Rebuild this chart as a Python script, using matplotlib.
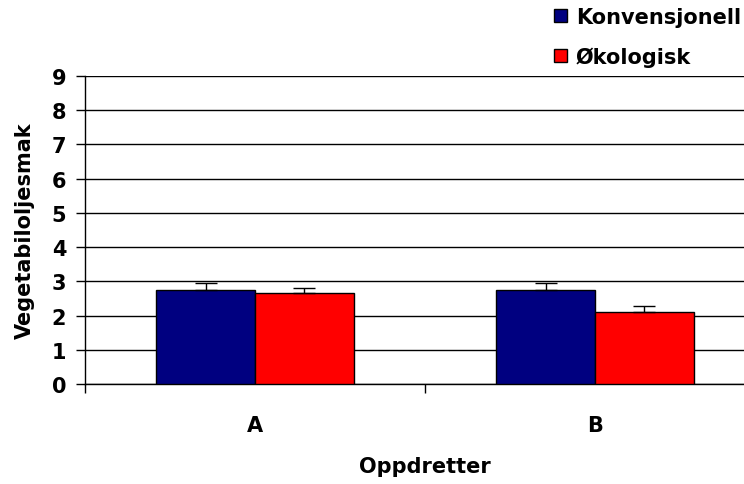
import numpy as np
import matplotlib
matplotlib.use("Agg")
import matplotlib.pyplot as plt

plt.rcParams["font.family"] = ["DejaVu Sans"]
plt.rcParams["font.weight"] = "bold"

# data
oppdretter = ["A", "B"]
serier = ["Konvensjonell", "Økologisk"]
verdier = {
    "Konvensjonell": [2.76, 2.76],
    "Økologisk": [2.66, 2.10],
}
feil = {
    "Konvensjonell": [0.19, 0.19],
    "Økologisk": [0.15, 0.19],
}
farger = {"Konvensjonell": "#000080", "Økologisk": "#ff0000"}

FS = 15

fig = plt.figure(figsize=(7.44, 4.85), dpi=100)
# axes runs a bit past the right edge, like the original
ax = fig.add_axes([85 / 744, 1 - 385 / 485, 680 / 744, 308 / 485])

x = np.arange(len(oppdretter)) + 0.5
w = 0.29
for i, s in enumerate(serier):
    pos = x + (i - 0.5) * w
    ax.bar(pos, verdier[s], w, color=farger[s], edgecolor="black",
           linewidth=1, label=s, zorder=3)
    ax.errorbar(pos, verdier[s], yerr=[np.zeros(2), feil[s]], fmt="none",
                ecolor="black", elinewidth=1, capsize=8, capthick=1, zorder=4)

ax.set_xlim(0, 2)
ax.set_ylim(0, 9)
ax.set_yticks(range(10))
ax.set_xticks([0, 1, 2])
ax.set_xticklabels([])
ax.set_xticks(x, minor=True)
ax.set_xticklabels(oppdretter, minor=True, fontsize=FS, fontweight="bold")
ax.tick_params(axis="x", which="minor", length=0, pad=22)
ax.tick_params(axis="x", which="major", length=6.5, width=1, color="black")
ax.tick_params(axis="y", length=6.5, width=1, labelsize=FS, pad=7)
for t in ax.get_yticklabels():
    t.set_fontweight("bold")

ax.yaxis.grid(True, color="black", linewidth=1, zorder=0)
ax.set_axisbelow(True)
for side in ["top", "right"]:
    ax.spines[side].set_visible(False)
ax.spines["left"].set_linewidth(1)
ax.spines["bottom"].set_linewidth(1)

ax.set_xlabel("Oppdretter", fontsize=FS, fontweight="bold")
ax.xaxis.set_label_coords(0.5, -0.235)
ax.set_ylabel("Vegetabiloljesmak", fontsize=FS, fontweight="bold")
ax.yaxis.set_label_coords(-0.074, 0.5)

leg = fig.legend(loc="upper left", bbox_to_anchor=(554 / 744, 1 - 8 / 485),
                 frameon=False, fontsize=FS, handlelength=0.62,
                 handleheight=0.62, handletextpad=0.42, labelspacing=0.93,
                 borderpad=0, borderaxespad=0)

fig.savefig("out.png", dpi=100)
